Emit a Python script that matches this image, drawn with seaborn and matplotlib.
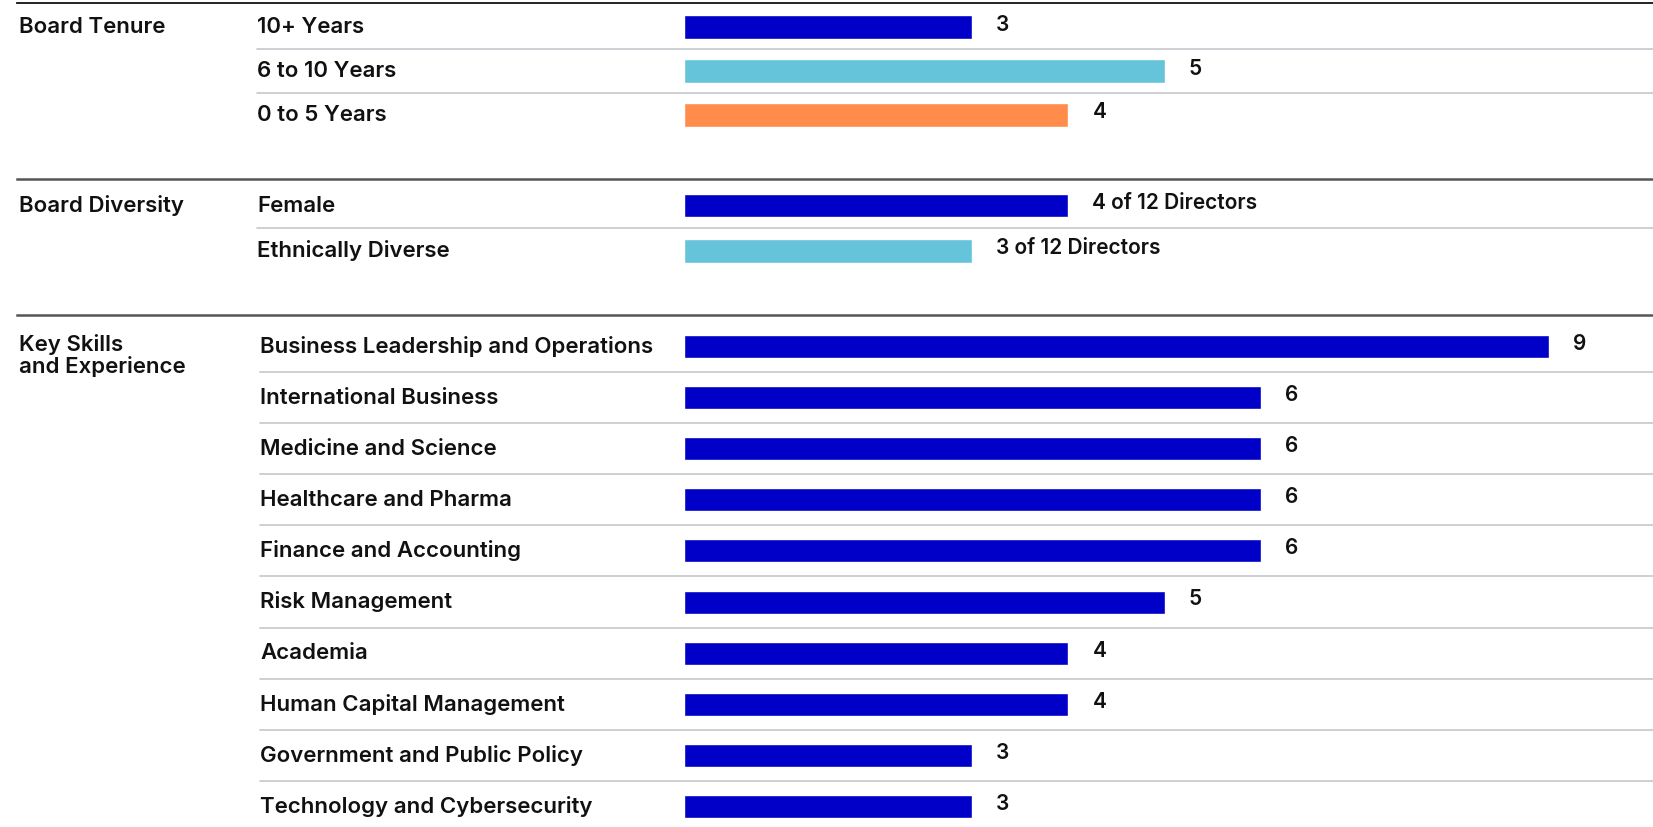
import matplotlib
matplotlib.use("Agg")
import matplotlib.pyplot as plt
import matplotlib.transforms as mtransforms
import seaborn as sns

sns.set_style("white")
plt.rcParams["font.family"] = ["Inter", "Roboto", "DejaVu Sans"]

# data
tenure_labels = ["10+ Years", "6 to 10 Years", "0 to 5 Years"]
tenure_values = [3, 5, 4]
tenure_text = ["3", "5", "4"]

diversity_labels = ["Female", "Ethnically Diverse"]
diversity_values = [4, 3]
diversity_text = ["4 of 12 Directors", "3 of 12 Directors"]

skills_labels = ["Business Leadership and Operations", "International Business",
                 "Medicine and Science", "Healthcare and Pharma",
                 "Finance and Accounting", "Risk Management", "Academia",
                 "Human Capital Management", "Government and Public Policy",
                 "Technology and Cybersecurity"]
skills_values = [9, 6, 6, 6, 6, 5, 4, 4, 3, 3]
skills_text = [str(v) for v in skills_values]

BLUE = "#0000c8"
LIGHT = "#66c4da"
ORANGE = "#ff8c4a"

W, H = 1653, 827
X0 = 17          # left end of section rules (px)
BAR0 = 684       # where bars start (px)
UNIT = 96.1      # px per director

fig = plt.figure(figsize=(W / 100, H / 100), dpi=100)


def section(title, labels, values, texts, colors, top, bottom, first, pitch,
            bar_px, label_px, rule_color, rule_w):
    ax = fig.add_axes([X0 / W, 1 - bottom / H, (W - X0) / W, (bottom - top) / H])
    sns.barplot(x=values, y=labels, hue=labels, palette=colors, orient="h",
                width=bar_px / pitch, saturation=1, legend=False, ax=ax)
    ax.set_xlim(-(BAR0 - X0) / UNIT, (W - BAR0) / UNIT)
    ax.set_ylim((bottom - first) / pitch, -(first - top) / pitch)
    ax.set_xticks([])
    ax.set_yticks([])
    ax.set_xlabel("")
    ax.set_ylabel("")
    for s in ["left", "right", "bottom"]:
        ax.spines[s].set_visible(False)
    ax.spines["top"].set_color(rule_color)
    ax.spines["top"].set_linewidth(rule_w)

    tr = mtransforms.blended_transform_factory(ax.transAxes, ax.transData)
    lx = (label_px - X0) / (W - X0)
    # row separators
    for i in range(len(labels) - 1):
        ax.plot([lx, 1], [i + 0.5, i + 0.5], transform=tr, color="#c3c7cc",
                lw=1.2, clip_on=False)
    for i, lab in enumerate(labels):
        ax.text(lx, i, lab, transform=tr, ha="left", va="center",
                fontsize=16, fontweight="semibold", color="#111111")
    for i, (v, t) in enumerate(zip(values, texts)):
        ax.text(v + 0.25, i - 0.05, t, ha="left", va="center",
                fontsize=15, fontweight="semibold", color="#111111")
    ax.text((19 - X0) / (W - X0), -0.24 if "\n" in title else 0, title,
            transform=tr, ha="left", va="top" if "\n" in title else "center",
            fontsize=16, fontweight="semibold", color="#111111", linespacing=1.05)
    return ax


section("Board Tenure", tenure_labels, tenure_values, tenure_text,
        [BLUE, LIGHT, ORANGE], 3, 179, 27, 43.8, 24, 257, "#111111", 1.3)
section("Board Diversity", diversity_labels, diversity_values, diversity_text,
        [BLUE, LIGHT], 179, 315, 205.5, 45, 24, 257, "#555555", 1.8)
section("Key Skills\nand Experience", skills_labels, skills_values, skills_text,
        [BLUE] * len(skills_labels), 315, 827, 346.5, 51.1, 23, 260,
        "#555555", 1.8)

fig.savefig("out.png", dpi=100)
